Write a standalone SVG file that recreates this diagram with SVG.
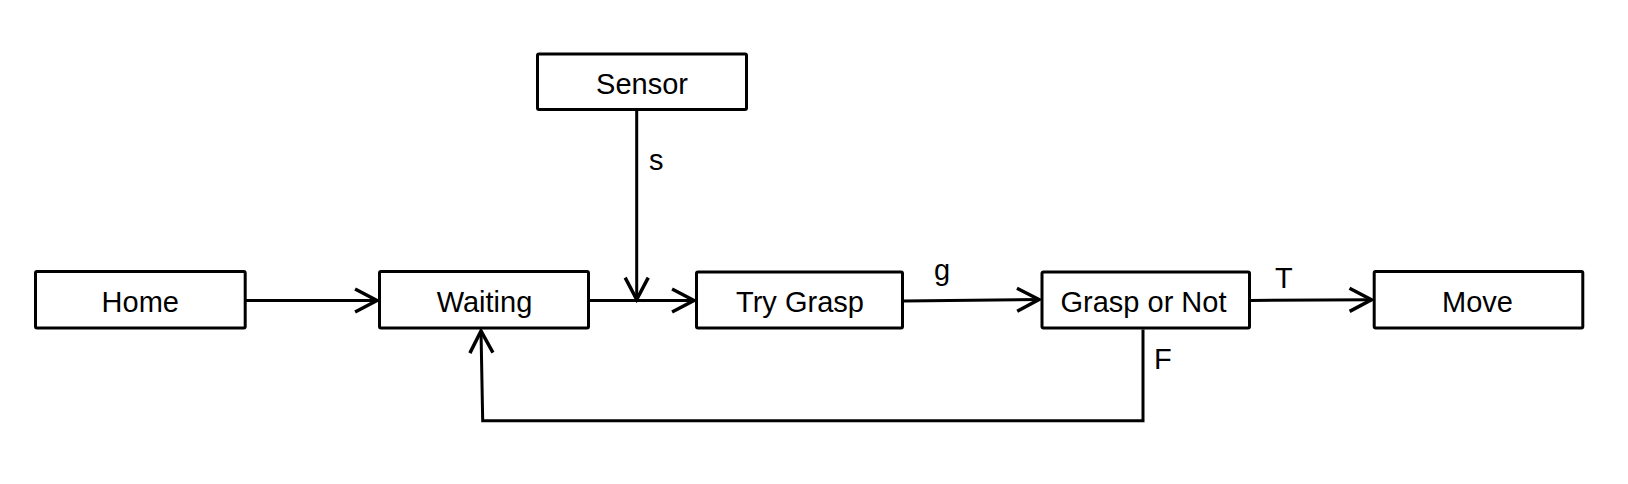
<svg xmlns="http://www.w3.org/2000/svg" width="1628" height="484" viewBox="0 0 1628 484">
<style>
.box{fill:#fff;stroke:#000;stroke-width:3}
.lbl{font-family:"Liberation Sans",Arial,Helvetica,sans-serif;font-size:29px;fill:#000;text-anchor:middle}
.elbl{font-family:"Liberation Sans",Arial,Helvetica,sans-serif;font-size:29px;fill:#000}
.edge{fill:none;stroke:#000;stroke-width:3;stroke-linejoin:miter}
</style>
<defs>
<marker id="arr" markerUnits="userSpaceOnUse" markerWidth="30" markerHeight="30" viewBox="-22 -13 26 26" refX="0" refY="0" orient="auto">
<path d="M -19 -10 L 0 0 L -19 10" fill="none" stroke="#000" stroke-width="3"/>
</marker>
</defs>
<rect width="1628" height="484" fill="#fff"/>
<g id="connectors">
<path class="edge" d="M 246 300.5 L 377 300.5" marker-end="url(#arr)"/>
<path class="edge" d="M 590 300.5 L 694 300.5" marker-end="url(#arr)"/>
<path class="edge" d="M 636.7 111 L 636.7 299.5" marker-end="url(#arr)"/>
<path class="edge" d="M 904 301 L 1039 299.5" marker-end="url(#arr)"/>
<path class="edge" d="M 1251 300.5 L 1371.5 299.7" marker-end="url(#arr)"/>
<path class="edge" d="M 1143 329.5 L 1143 420.7 L 482.7 420.7 L 481 331" marker-end="url(#arr)"/>
<text class="elbl" x="649" y="170">s</text>
<text class="elbl" x="934" y="280">g</text>
<text class="elbl" x="1275" y="287.7">T</text>
<text class="elbl" x="1154" y="369.3">F</text>
</g>
<g id="node-sensor">
<rect class="box" x="537.5" y="54" width="209" height="55.5" rx="1.5"/>
<text class="lbl" x="642" y="94.3">Sensor</text>
</g>
<g id="node-home">
<rect class="box" x="35.5" y="271.5" width="209.7" height="56.5" rx="1.5"/>
<text class="lbl" x="140.3" y="311.5">Home</text>
</g>
<g id="node-waiting">
<rect class="box" x="379.5" y="271.5" width="209" height="56.5" rx="1.5"/>
<text class="lbl" x="484.5" y="311.5">Waiting</text>
</g>
<g id="node-trygrasp">
<rect class="box" x="696.5" y="272" width="206" height="56" rx="1.5"/>
<text class="lbl" x="800" y="311.5">Try Grasp</text>
</g>
<g id="node-grasp-or-not">
<rect class="box" x="1042" y="272" width="207.5" height="56" rx="1.5"/>
<text class="lbl" x="1143.5" y="311.5">Grasp or Not</text>
</g>
<g id="node-move">
<rect class="box" x="1374.2" y="271.5" width="208.6" height="56.5" rx="1.5"/>
<text class="lbl" x="1477.5" y="311.5">Move</text>
</g>
</svg>
